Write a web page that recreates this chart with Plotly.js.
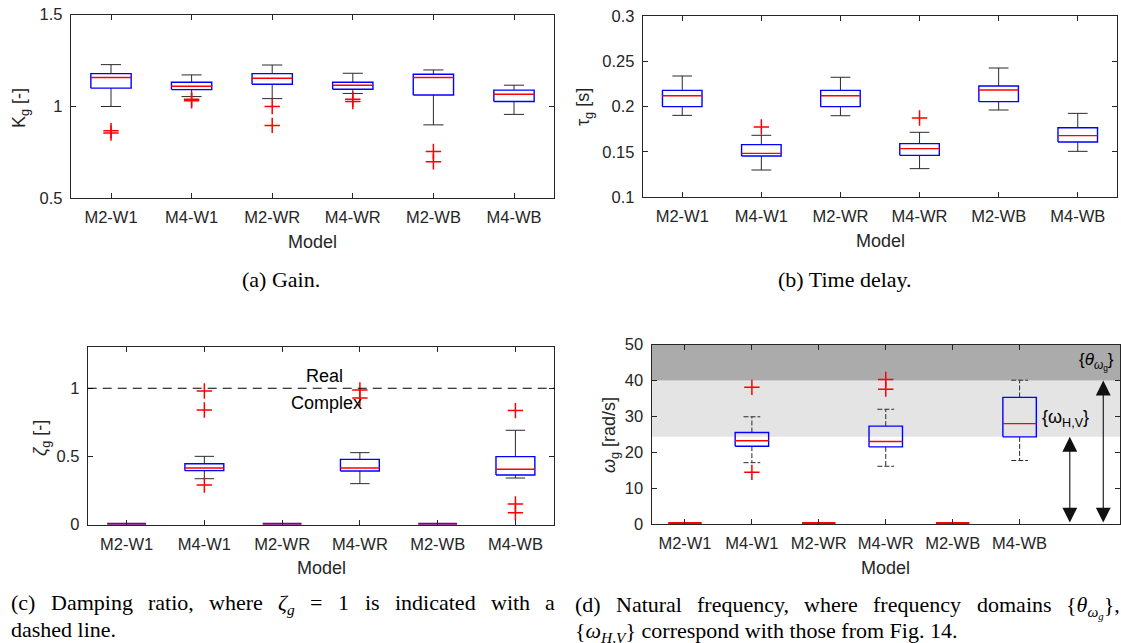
<!DOCTYPE html>
<html>
<head>
<meta charset="utf-8">
<script src="https://cdn.plot.ly/plotly-3.0.1.min.js"></script>
<style>html,body{margin:0;padding:0;background:#fff}#chart{width:1121px;height:643px}</style>
</head>
<body>
<div id="chart"></div>
<script>
// ---------------- data ----------------
const categories = ['M2-W1', 'M4-W1', 'M2-WR', 'M4-WR', 'M2-WB', 'M4-WB'];

// (a) Gain K_g [-]
const gainLower   = [1.000, 1.054, 1.043, 1.071, 0.900, 0.957];
const gainQ1      = [1.100, 1.092, 1.121, 1.094, 1.063, 1.027];
const gainMedian  = [1.158, 1.110, 1.154, 1.116, 1.158, 1.067];
const gainQ3      = [1.179, 1.132, 1.179, 1.132, 1.176, 1.089];
const gainUpper   = [1.228, 1.172, 1.226, 1.181, 1.199, 1.116];
const gainOutliers = [[0.868, 0.855], [1.040, 1.031], [1.000, 0.897], [1.040, 1.027], [0.755, 0.699], []];
const gainTicks   = [0.5, 1, 1.5];
const gainTickText = ['0.5', '1', '1.5'];

// (b) Time delay tau_g [s]
const delayLower  = [0.1904, 0.1301, 0.1900, 0.1316, 0.1963, 0.1507];
const delayQ1     = [0.2000, 0.1456, 0.2000, 0.1463, 0.2055, 0.1610];
const delayMedian = [0.2121, 0.1485, 0.2121, 0.1537, 0.2184, 0.1680];
const delayQ3     = [0.2180, 0.1581, 0.2180, 0.1592, 0.2228, 0.1768];
const delayUpper  = [0.2338, 0.1684, 0.2324, 0.1717, 0.2426, 0.1926];
const delayOutliers = [[], [0.1776], [], [0.1875], [], []];
const delayTicks  = [0.1, 0.15, 0.2, 0.25, 0.3];
const delayTickText = ['0.1', '0.15', '0.2', '0.25', '0.3'];

// (c) Damping ratio zeta_g [-]
const dampLower   = [0, 0.337, 0, 0.301, 0, 0.342];
const dampQ1      = [0, 0.396, 0, 0.394, 0, 0.364];
const dampMedian  = [0, 0.416, 0, 0.416, 0, 0.406];
const dampQ3      = [0, 0.447, 0, 0.479, 0, 0.499];
const dampUpper   = [0, 0.501, 0, 0.528, 0, 0.692];
const dampOutliers = [[], [0.980, 0.841, 0.291], [], [0.988, 0.929], [], [0.836, 0.152, 0.088]];
const dampTicks   = [0, 0.5, 1];
const dampTickText = ['0', '0.5', '1'];
const realComplexBoundary = 1;

// (d) Natural frequency omega_g [rad/s]
const freqLower   = [0, 17.1, 0, 16.1, 0, 17.7];
const freqQ1      = [0, 21.7, 0, 21.5, 0, 24.3];
const freqMedian  = [0, 23.2, 0, 23.0, 0, 28.0];
const freqQ3      = [0, 25.5, 0, 27.3, 0, 35.3];
const freqUpper   = [0, 29.9, 0, 32.0, 0, 40.1];
const freqOutliers = [[], [38.1, 14.4], [], [40.3, 37.6], [], []];
const freqTicks   = [0, 10, 20, 30, 40, 50];
const freqTickText = ['0', '10', '20', '30', '40', '50'];
const omegaHVDomain = [24.3, 40];
const thetaOmegaDomain = [40, 50];

// ---------------- layout helpers ----------------
const W = 1121, H = 643;
const SANS = 'Liberation Sans, Arial, Helvetica, sans-serif';
const SERIF = 'Liberation Serif, Times New Roman, serif';
const AXC = '#262626';
const TICK = 16.5, LAB = 18;

const panels = [
  {n: 1, left: 70.7, right: 554.3, top: 14.7, bottom: 198.3, xr: [0.5, 6.5], yr: [0.5, 1.5],
   yt: gainTicks, ytt: gainTickText,
   lo: gainLower, q1: gainQ1, med: gainMedian, q3: gainQ3, hi: gainUpper, out: gainOutliers,
   flat: 'red', wdash: 'solid'},
  {n: 2, left: 642.7, right: 1117.3, top: 16, bottom: 197.3, xr: [0.5, 6.5], yr: [0.1, 0.3],
   yt: delayTicks, ytt: delayTickText,
   lo: delayLower, q1: delayQ1, med: delayMedian, q3: delayQ3, hi: delayUpper, out: delayOutliers,
   flat: 'red', wdash: 'solid'},
  {n: 3, left: 87.7, right: 554.3, top: 347.3, bottom: 524.7, xr: [0.5, 6.5], yr: [0, 1.3],
   yt: dampTicks, ytt: dampTickText,
   lo: dampLower, q1: dampQ1, med: dampMedian, q3: dampQ3, hi: dampUpper, out: dampOutliers,
   flat: '#7d007d', wdash: 'solid'},
  {n: 4, left: 651.5, right: 1120, top: 344.7, bottom: 524, xr: [0.5, 7.5], yr: [0, 50],
   yt: freqTicks, ytt: freqTickText,
   lo: freqLower, q1: freqQ1, med: freqMedian, q3: freqQ3, hi: freqUpper, out: freqOutliers,
   flat: '#ff0000', wdash: '5px,2px'}
];

const catVals = categories.map((c, i) => i + 1);
const traces = [];
const layout = {
  width: W, height: H, margin: {l: 0, r: 0, t: 0, b: 0},
  paper_bgcolor: '#fff', plot_bgcolor: 'rgba(0,0,0,0)', showlegend: false,
  shapes: [], annotations: []
};

panels.forEach(p => {
  const xa = p.n === 1 ? 'x' : 'x' + p.n, ya = p.n === 1 ? 'y' : 'y' + p.n;
  const hw = 0.25, cw = 0.125;
  const wx = [], wy = [], bx = [], by = [], mx = [], my = [], fx = [], fy = [], ox = [], oy = [];
  categories.forEach((cat, i) => {
    const c = i + 1;
    if (p.q1[i] === p.q3[i]) {
      fx.push(c - hw, c + hw, null); fy.push(p.med[i], p.med[i], null);
    } else {
      wx.push(c, c, null, c - cw, c + cw, null, c, c, null, c - cw, c + cw, null);
      wy.push(p.q3[i], p.hi[i], null, p.hi[i], p.hi[i], null, p.q1[i], p.lo[i], null, p.lo[i], p.lo[i], null);
      bx.push(c - hw, c + hw, c + hw, c - hw, c - hw, null);
      by.push(p.q1[i], p.q1[i], p.q3[i], p.q3[i], p.q1[i], null);
      mx.push(c - hw, c + hw, null); my.push(p.med[i], p.med[i], null);
    }
    p.out[i].forEach(v => { ox.push(c); oy.push(v); });
  });
  traces.push({type: 'scatter', mode: 'lines', x: wx, y: wy, xaxis: xa, yaxis: ya, hoverinfo: 'skip',
               line: {color: '#2a2a2a', width: 1, dash: p.wdash}});
  traces.push({type: 'scatter', mode: 'lines', x: bx, y: by, xaxis: xa, yaxis: ya, hoverinfo: 'skip',
               line: {color: '#0000ff', width: 1.4}});
  traces.push({type: 'scatter', mode: 'lines', x: mx, y: my, xaxis: xa, yaxis: ya, hoverinfo: 'skip',
               line: {color: '#ff0000', width: 1.4}});
  traces.push({type: 'scatter', mode: 'lines', x: fx, y: fy, xaxis: xa, yaxis: ya, hoverinfo: 'skip',
               line: {color: p.flat, width: 4}});
  traces.push({type: 'scatter', mode: 'markers', x: ox, y: oy, xaxis: xa, yaxis: ya, hoverinfo: 'skip',
               marker: {symbol: 'cross-thin', size: 11, color: '#ff0000', line: {color: '#ff0000', width: 1.5}}});

  const common = {showline: true, mirror: 'allticks', linecolor: AXC, linewidth: 1, ticks: 'inside',
                  ticklen: 5, tickwidth: 1, tickcolor: AXC, showgrid: false, zeroline: false, fixedrange: true,
                  tickfont: {family: SANS, size: TICK, color: AXC}, tickmode: 'array'};
  layout[p.n === 1 ? 'xaxis' : 'xaxis' + p.n] = Object.assign({}, common, {
    domain: [p.left / W, p.right / W], range: p.xr, tickvals: catVals, ticktext: categories,
    anchor: ya, ticklabelstandoff: 4});
  layout[p.n === 1 ? 'yaxis' : 'yaxis' + p.n] = Object.assign({}, common, {
    domain: [1 - p.bottom / H, 1 - p.top / H], range: p.yr, tickvals: p.yt, ticktext: p.ytt,
    anchor: xa, ticklabelstandoff: 4});

  layout.annotations.push({xref: 'paper', yref: 'paper', x: (p.left + p.right) / 2 / W, y: 1 - (p.bottom + 43.5) / H,
    xanchor: 'center', yanchor: 'middle', showarrow: false, text: 'Model',
    font: {family: SANS, size: LAB, color: AXC}});
});

// y-axis titles
const ytitles = [
  {t: 'K<sub>g</sub> [-]', x: 21, y: 108},
  {t: 'τ<sub>g</sub> [s]', x: 585, y: 107},
  {t: '<i>ζ</i><sub>g</sub> [-]', x: 41, y: 438},
  {t: '<i>ω</i><sub>g</sub> [rad/s]', x: 610, y: 435}
];
ytitles.forEach(a => layout.annotations.push({xref: 'paper', yref: 'paper', x: a.x / W, y: 1 - a.y / H,
  xanchor: 'center', yanchor: 'middle', textangle: -90, showarrow: false, text: a.t,
  font: {family: SANS, size: LAB, color: AXC}}));

// (c) real / complex boundary
layout.shapes.push({type: 'line', xref: 'x3 domain', yref: 'y3', x0: 0, x1: 1,
  y0: realComplexBoundary, y1: realComplexBoundary, line: {color: '#000', width: 1.2, dash: '9px,6px'}});
layout.annotations.push({xref: 'x3', yref: 'y3', x: 3.55, y: 1.09, text: 'Real', showarrow: false,
  font: {family: SANS, size: LAB, color: '#000'}});
layout.annotations.push({xref: 'x3', yref: 'y3', x: 3.57, y: 0.89, text: 'Complex', showarrow: false,
  font: {family: SANS, size: LAB, color: '#000'}});

// (d) frequency domains
layout.shapes.push({type: 'rect', xref: 'x4 domain', yref: 'y4', x0: 0, x1: 1,
  y0: omegaHVDomain[0], y1: omegaHVDomain[1], fillcolor: '#e4e4e4', line: {width: 0}, layer: 'below'});
layout.shapes.push({type: 'rect', xref: 'x4 domain', yref: 'y4', x0: 0, x1: 1,
  y0: thetaOmegaDomain[0], y1: thetaOmegaDomain[1], fillcolor: '#ababab', line: {width: 0}, layer: 'below'});
[[6.75, omegaHVDomain[0]], [7.25, thetaOmegaDomain[0]]].forEach(a => layout.annotations.push({
  xref: 'x4', yref: 'y4', axref: 'x4', ayref: 'y4', x: a[0], y: a[1], ax: a[0], ay: 0, text: '',
  showarrow: true, arrowside: 'end+start', arrowhead: 2, startarrowhead: 2, arrowsize: 2.7,
  startarrowsize: 2.7, arrowwidth: 1.1, arrowcolor: '#111'}));
layout.annotations.push({xref: 'x4', yref: 'y4', x: 6.3, y: 29.3, xanchor: 'left', showarrow: false,
  text: '{ω<sub>H,V</sub>}', font: {family: SANS, size: LAB, color: '#000'}});
layout.annotations.push({xref: 'x4', yref: 'y4', x: 6.86, y: 45.2, xanchor: 'left', showarrow: false,
  text: '{<i>θ</i><sub><i>ω</i><sub>g</sub></sub>}', font: {family: SANS, size: 17, color: '#000'}});

// ---------------- captions ----------------
const CAP = 22;
const canvas = document.createElement('canvas');
const ctx = canvas.getContext('2d');
function measure(html, size, family) {
  let w = 0, italic = false, depth = 0, m;
  const re = /<(\/?)(i|sub)>|([^<]+)/g;
  while ((m = re.exec(html))) {
    if (m[3]) {
      const s = size * Math.pow(0.7, depth);
      ctx.font = (italic ? 'italic ' : '') + s + 'px ' + family;
      w += ctx.measureText(m[3]).width;
    } else if (m[2] === 'i') italic = !m[1];
    else depth += m[1] ? -1 : 1;
  }
  return w;
}
function capText(text, x, yc, anchor) {
  layout.annotations.push({xref: 'paper', yref: 'paper', x: x / W, y: 1 - (yc - 12.5) / H, xanchor: anchor || 'left',
    yanchor: 'top', showarrow: false, text: text, borderpad: 0,
    font: {family: SERIF, size: CAP, color: '#000'}});
}
function justify(words, x0, x1, yc) {
  const ws = words.map(w => measure(w, CAP, 'Liberation Serif'));
  const gap = (x1 - x0 - ws.reduce((a, b) => a + b, 0)) / (words.length - 1);
  let x = x0;
  words.forEach((w, i) => { capText(w, x, yc); x += ws[i] + gap; });
}
capText('(a) Gain.', 281, 278, 'center');
capText('(b) Time delay.', 845, 278, 'center');
justify(['(c)', 'Damping', 'ratio,', 'where', '<i>ζ</i><sub><i>g</i></sub>', '=', '1', 'is', 'indicated', 'with', 'a'],
        10, 554, 601.5);
capText('dashed line.', 10, 628);
justify(['(d)', 'Natural', 'frequency,', 'where', 'frequency', 'domains', '{<i>θ</i><sub><i>ω<sub>g</sub></i></sub>},'],
        574, 1119, 603);
capText('{<i>ω</i><sub><i>H,V</i></sub>} correspond with those from Fig. 14.', 574, 629.5);

Plotly.newPlot('chart', traces, layout, {displayModeBar: false, staticPlot: true});
</script>
</body>
</html>
